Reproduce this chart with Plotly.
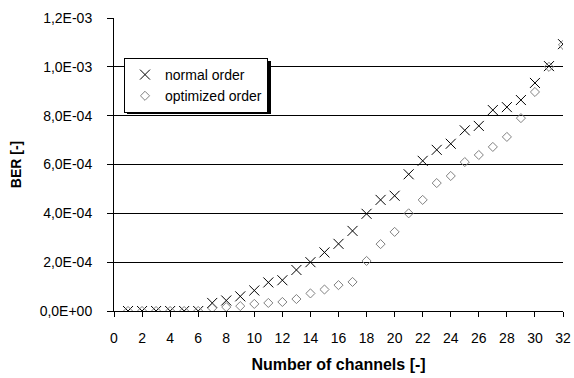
import plotly.graph_objects as go

# Number of channels
channels = list(range(1, 33))

# Bit error rate, normal channel order
ber_normal = [0, 0, 0, 0, 0, 0,
              3.3e-5, 4.3e-5, 6.0e-5, 8.4e-5, 1.17e-4, 1.26e-4, 1.68e-4, 2.0e-4,
              2.4e-4, 2.75e-4, 3.28e-4, 3.98e-4, 4.55e-4, 4.72e-4, 5.6e-4, 6.15e-4,
              6.6e-4, 6.85e-4, 7.4e-4, 7.58e-4, 8.23e-4, 8.35e-4, 8.64e-4, 9.34e-4,
              1.003e-3, 1.093e-3]

# Bit error rate, optimized channel order
ber_optimized = [0, 0, 0, 0, 0, 0,
                 1.2e-5, 1.6e-5, 2.0e-5, 2.9e-5, 3.3e-5, 3.7e-5, 4.9e-5, 7.2e-5,
                 8.8e-5, 1.06e-4, 1.19e-4, 2.05e-4, 2.74e-4, 3.24e-4, 4.0e-4, 4.55e-4,
                 5.24e-4, 5.53e-4, 6.1e-4, 6.39e-4, 6.72e-4, 7.13e-4, 7.9e-4, 8.97e-4,
                 1.0e-3, 1.09e-3]

y_tick_vals = [0, 2e-4, 4e-4, 6e-4, 8e-4, 1.0e-3, 1.2e-3]
y_tick_text = ["0,0E+00", "2,0E-04", "4,0E-04", "6,0E-04", "8,0E-04", "1,0E-03", "1,2E-03"]
x_tick_vals = list(range(0, 33, 2))

FONT = "Liberation Sans, Arial, sans-serif"

fig = go.Figure()
fig.add_trace(go.Scatter(
    x=channels, y=ber_normal, mode="markers", name="normal order",
    marker=dict(symbol="x-thin", size=10, line=dict(color="black", width=1), color="black"),
))
fig.add_trace(go.Scatter(
    x=channels, y=ber_optimized, mode="markers", name="optimized order",
    marker=dict(symbol="diamond-open", size=7, color="#808080", line=dict(width=1)),
))

# drop shadow behind the legend box
fig.add_shape(type="rect", xref="paper", yref="paper",
              x0=(127 - 114) / 449, x1=(271 - 114) / 449,
              y0=(311 - 114) / 293, y1=(311 - 61) / 293,
              fillcolor="black", line=dict(width=0), layer="above")

fig.update_layout(
    width=574, height=378,
    margin=dict(l=114, r=11, t=18, b=67),
    paper_bgcolor="white", plot_bgcolor="white",
    font=dict(family=FONT, size=14, color="black"),
    showlegend=True,
    legend=dict(x=(124 - 114) / 449, y=(311 - 58) / 293, xanchor="left", yanchor="top",
                bgcolor="white", bordercolor="black", borderwidth=1,
                font=dict(family=FONT, size=14, color="black"),
                itemwidth=30, tracegroupgap=0),
    xaxis=dict(range=[0, 32], tickvals=x_tick_vals, ticks="outside", ticklen=5,
               tickcolor="black", showline=True, linecolor="black", linewidth=1,
               showgrid=False, zeroline=False, ticklabelstandoff=9, automargin=False,
               tickfont=dict(family=FONT, size=14),
               title=dict(text="<b>Number of channels [-]</b>", standoff=14,
                          font=dict(family=FONT, size=16))),
    yaxis=dict(range=[0, 1.2e-3], tickvals=y_tick_vals, ticktext=y_tick_text,
               ticks="outside", ticklen=6, tickcolor="black",
               showline=True, linecolor="black", linewidth=1,
               showgrid=True, gridcolor="black", gridwidth=1, zeroline=False,
               ticklabelstandoff=12, automargin=False,
               tickfont=dict(family=FONT, size=14),
               title=dict(text="<b>BER [-]</b>", standoff=14,
                          font=dict(family=FONT, size=14))),
)

fig.write_html("out.html")
